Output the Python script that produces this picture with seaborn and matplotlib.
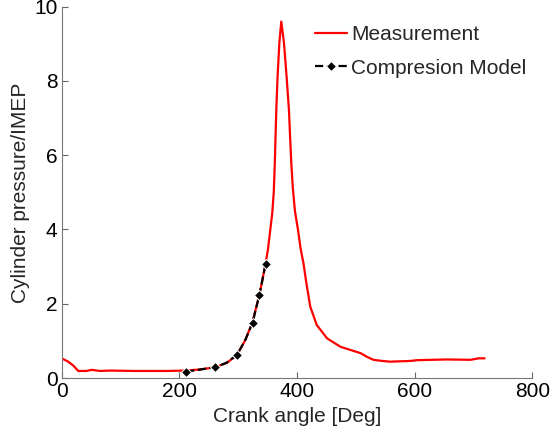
import numpy as np
import pandas as pd
import seaborn as sns
import matplotlib
matplotlib.use("Agg")
import matplotlib.pyplot as plt

angle = [0, 11, 20, 28, 42, 51, 65, 82, 122, 179, 210, 235, 261, 281, 298, 312,
         324, 336, 346.5, 350.5, 354.6, 358, 360.5, 362.3, 363.7, 365, 367, 370, 373.3,
         377.9, 382.3, 386.3, 388, 390.3, 393, 396.5, 401.7, 406, 411, 416, 422.6, 433.5,
         451, 474, 490, 508, 519, 530, 545, 558, 593, 604, 655, 695, 709, 719]
pressure = [0.53, 0.44, 0.33, 0.19, 0.19, 0.22, 0.19, 0.20, 0.19, 0.19, 0.20, 0.23, 0.29, 0.41, 0.62, 1.02,
            1.49, 2.23, 3.07, 3.45, 3.99, 4.45, 5.0, 5.79, 6.6, 7.3, 8.12, 9.02, 9.6,
            9.02, 8.12, 7.22, 6.6, 5.79, 5.1, 4.5, 3.99, 3.5, 3.09, 2.55, 1.92, 1.43,
            1.07, 0.84, 0.76, 0.67, 0.57, 0.49, 0.46, 0.44, 0.46, 0.48, 0.50, 0.49, 0.53, 0.53]

# compression model
model_angle = [211.6, 236, 261, 280, 297.8, 312, 324.5, 330, 335.8, 341, 346.5]
model_pressure = [0.17, 0.23, 0.29, 0.41, 0.62, 1.02, 1.49, 1.85, 2.23, 2.62, 3.07]

meas = pd.DataFrame({"angle": angle, "p": pressure})
model = pd.DataFrame({"angle": model_angle, "p": model_pressure})

sns.set_style("ticks")
plt.rcParams["font.family"] = ["Liberation Sans", "DejaVu Sans"]

fig = plt.figure(figsize=(5.51, 4.34), dpi=100)
ax = fig.add_axes([0.112, 0.129, 0.854, 0.8555])

sns.lineplot(data=meas, x="angle", y="p", ax=ax, color="red", linewidth=1.6,
             label="Measurement", sort=False)
sns.lineplot(data=model, x="angle", y="p", ax=ax, color="black", linewidth=1.6,
             linestyle="--", marker="D", markersize=5, markevery=[0, 2, 4, 6, 8, 10],
             label="Compresion Model", sort=False)

ax.set_xlim(0, 800)
ax.set_ylim(0, 10)
ax.set_xticks([0, 200, 400, 600, 800])
ax.set_yticks([0, 2, 4, 6, 8, 10])
ax.tick_params(direction="in", labelsize=15, length=4, colors="#666666", labelcolor="black", pad=3)
ax.set_xlabel("Crank angle [Deg]", fontsize=15, labelpad=4)
ax.set_ylabel("Cylinder pressure/IMEP", fontsize=15, labelpad=3)
sns.despine(ax=ax)
for s in ["left", "bottom"]:
    ax.spines[s].set_color("#777777")

leg = ax.legend(loc="upper left", frameon=False, fontsize=15, handlelength=1.55,
                handletextpad=0.2, labelspacing=0.7, borderpad=0, borderaxespad=0,
                bbox_to_anchor=(315 / 551, 1 - 25 / 434), bbox_transform=fig.transFigure)

fig.savefig("out.png", dpi=100)
